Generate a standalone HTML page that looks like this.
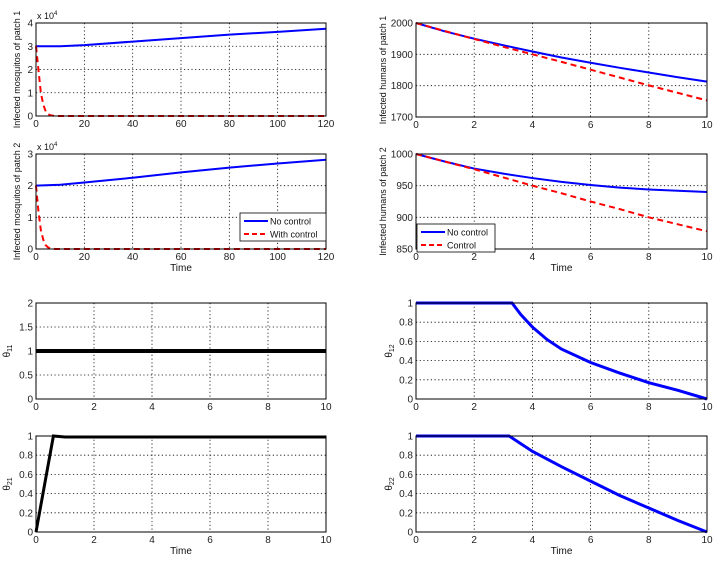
<!DOCTYPE html>
<html><head><meta charset="utf-8"><style>
body{margin:0;background:#fff;}
svg{display:block;font-family:"Liberation Sans",Arial,sans-serif;}
</style></head><body>
<svg id="c" width="725" height="561"></svg>
<script>
const tMos=[0,10,20,40,60,80,100,120];
const mos1No=[3.0,3.0,3.05,3.2,3.35,3.5,3.62,3.75];
const mos2No=[2.0,2.03,2.1,2.25,2.42,2.57,2.7,2.82];
const tMosCtl=[0,1,2,3,4,5,6,8,120];
const mos1Ctl=[3.0,2.0,1.0,0.5,0.2,0.08,0.03,0,0];
const mos2Ctl=[2.0,1.2,0.6,0.3,0.12,0.05,0.01,0,0];
const tHum=[0,1,2,3,4,5,6,7,8,9,10];
const hum1No=[2000,1973,1950,1929,1909,1890,1873,1857,1842,1827,1813];
const hum1Ctl=[2000,1974,1949,1924,1900,1876,1851,1826,1801,1777,1753];
const hum2No=[1000,988,977,969,962,956,951,947,944,942,940];
const hum2Ctl=[1000,988,976,963,950,938,925,913,900,889,878];
const tT11=[0,10]; const th11=[1,1];
const tT21=[0,0.6,1,10]; const th21=[0,1,0.99,0.99];
const tT12=[0,3.3,3.6,4,4.5,5,6,7,8,9,10]; const th12=[1,1,0.88,0.75,0.62,0.52,0.38,0.27,0.17,0.09,0];
const tT22=[0,3.2,4,5,6,7,8,9,10]; const th22=[1,1,0.84,0.68,0.53,0.38,0.25,0.12,0];
const xt120=[0,20,40,60,80,100,120];
const xt10=[0,2,4,6,8,10];

const NS="http://www.w3.org/2000/svg";
const svg=document.getElementById('c');
function el(tag,attrs,parent){const e=document.createElementNS(NS,tag);for(const k in attrs)e.setAttribute(k,attrs[k]);(parent||svg).appendChild(e);return e;}

function panel(o){
  const g=el('g',{});
  
  
  const X=v=>o.x0+(v-o.xmin)/(o.xmax-o.xmin)*(o.x1-o.x0);
  const Y=v=>o.y1-(v-o.ymin)/(o.ymax-o.ymin)*(o.y1-o.y0);
  el('rect',{x:o.x0,y:o.y0,width:o.x1-o.x0,height:o.y1-o.y0,fill:'#fff'},g);
  o.xt.forEach(v=>{
    const x=X(v);
    if(v!==o.xmin&&v!==o.xmax){const l=el('line',{x1:x,x2:x,y1:o.y0,y2:o.y1,stroke:'#000','stroke-width':0.8,'stroke-dasharray':'1.2,2.5'},g);}
    const t=el('text',{x:x,y:o.y1+11,'font-size':10,'text-anchor':'middle',fill:'#222'},g);t.textContent=v;
    
  });
  o.yt.forEach((v,i)=>{
    const y=Y(v);
    if(v!==o.ymin&&v!==o.ymax){const l=el('line',{x1:o.x0,x2:o.x1,y1:y,y2:y,stroke:'#000','stroke-width':0.8,'stroke-dasharray':'1.2,2.5'},g);}
    const t=el('text',{x:o.x0-3,y:y+3.5,'font-size':10,'text-anchor':'end',fill:'#222'},g);t.textContent=v;
    
  });
  o.series.forEach(s=>{
    const d=s.t.map((t,i)=>(i?'L':'M')+X(t).toFixed(2)+','+Y(s.v[i]).toFixed(2)).join('');
    const p=el('path',{d:d,fill:'none',stroke:s.c,'stroke-width':s.w||2,'stroke-dasharray':s.dash||'none'},g);
    
    
  });
  el('rect',{x:o.x0,y:o.y0,width:o.x1-o.x0,height:o.y1-o.y0,fill:'none',stroke:'#000','stroke-width':1},g);
  const yl=el('text',{transform:`translate(${o.ylx},${(o.y0+o.y1)/2}) rotate(-90)`,'font-size':o.ylfs||9,'text-anchor':'middle',fill:'#111'},g);
  yl.innerHTML=o.ylabel;
  
  if(o.xlabel){const xl=el('text',{x:(o.x0+o.x1)/2,y:o.y1+22,'font-size':10,'text-anchor':'middle',fill:'#111'},g);xl.textContent='Time';
    }
  if(o.exp){const e=el('text',{x:o.x0+1,y:o.y0-4,'font-size':9,fill:'#111'},g);e.innerHTML='x 10<tspan font-size="6" dy="-4">4</tspan>';
    }
  if(o.legend){
    const L=o.legend;const lg=el('g',{},g);
    
    el('rect',{x:L.x,y:L.y,width:L.w,height:28,fill:'#fff',stroke:'#000','stroke-width':0.8},lg);
    L.items.forEach((it,i)=>{
      const yy=L.y+8+i*13;
      el('line',{x1:L.x+4,x2:L.x+28,y1:yy,y2:yy,stroke:it.c,'stroke-width':2,'stroke-dasharray':it.dash||'none'},lg);
      const t=el('text',{x:L.x+30,y:yy+3.5,'font-size':9,fill:'#111'},lg);t.textContent=it.label;
      
    });
  }
}
const LX0=36,LX1=326,RX0=416,RX1=707;
const B='#0000ff',R='#ff0000',D='6,4';
panel({name:'mosquitos-patch1-chart',x0:LX0,x1:LX1,y0:23,y1:116,xmin:0,xmax:120,ymin:0,ymax:4,xt:xt120,yt:[0,1,2,3,4],ylx:20,ylabel:'Infected mosquitos of patch 1',exp:true,
 series:[{t:tMos,v:mos1No,c:B,name:'no-control-line'},{t:tMosCtl,v:mos1Ctl,c:R,dash:D,name:'with-control-line'}]});
panel({name:'mosquitos-patch2-chart',x0:LX0,x1:LX1,y0:154,y1:249,xmin:0,xmax:120,ymin:0,ymax:3,xt:xt120,yt:[0,1,2,3],ylx:20,ylabel:'Infected mosquitos of patch 2',exp:true,xlabel:true,
 series:[{t:tMos,v:mos2No,c:B,name:'no-control-line'},{t:tMosCtl,v:mos2Ctl,c:R,dash:D,name:'with-control-line'}],
 legend:{x:240,y:213,w:86,items:[{c:B,label:'No control'},{c:R,dash:'5,3',label:'With control'}]}});
panel({name:'humans-patch1-chart',x0:RX0,x1:RX1,y0:23,y1:117,xmin:0,xmax:10,ymin:1700,ymax:2000,xt:xt10,yt:[1700,1800,1900,2000],ylx:386,ylabel:'Infected humans of patch 1',
 series:[{t:tHum,v:hum1No,c:B,name:'no-control-line'},{t:tHum,v:hum1Ctl,c:R,dash:D,name:'control-line'}]});
panel({name:'humans-patch2-chart',x0:RX0,x1:RX1,y0:154,y1:249,xmin:0,xmax:10,ymin:850,ymax:1000,xt:xt10,yt:[850,900,950,1000],ylx:386,ylabel:'Infected humans of patch 2',xlabel:true,
 series:[{t:tHum,v:hum2No,c:B,name:'no-control-line'},{t:tHum,v:hum2Ctl,c:R,dash:D,name:'control-line'}],
 legend:{x:417,y:224,w:78,items:[{c:B,label:'No control'},{c:R,dash:'5,3',label:'Control'}]}});
panel({name:'theta11-chart',x0:LX0,x1:LX1,y0:303,y1:399,xmin:0,xmax:10,ymin:0,ymax:2,xt:xt10,yt:[0,0.5,1,1.5,2],ylx:10,ylfs:10,ylabel:'θ<tspan font-size="7" dy="2">11</tspan>',
 series:[{t:tT11,v:th11,c:'#000',w:4,name:'theta11-line'}]});
panel({name:'theta21-chart',x0:LX0,x1:LX1,y0:436,y1:532,xmin:0,xmax:10,ymin:0,ymax:1,xt:xt10,yt:[0,0.2,0.4,0.6,0.8,1],ylx:10,ylfs:10,ylabel:'θ<tspan font-size="7" dy="2">21</tspan>',xlabel:true,
 series:[{t:tT21,v:th21,c:'#000',w:3,name:'theta21-line'}]});
panel({name:'theta12-chart',x0:RX0,x1:RX1,y0:303,y1:399,xmin:0,xmax:10,ymin:0,ymax:1,xt:xt10,yt:[0,0.2,0.4,0.6,0.8,1],ylx:392,ylfs:10,ylabel:'θ<tspan font-size="7" dy="2">12</tspan>',
 series:[{t:tT12,v:th12,c:B,w:3,name:'theta12-line'}]});
panel({name:'theta22-chart',x0:RX0,x1:RX1,y0:436,y1:532,xmin:0,xmax:10,ymin:0,ymax:1,xt:xt10,yt:[0,0.2,0.4,0.6,0.8,1],ylx:392,ylfs:10,ylabel:'θ<tspan font-size="7" dy="2">22</tspan>',xlabel:true,
 series:[{t:tT22,v:th22,c:B,w:3,name:'theta22-line'}]});
</script>
</body></html>
